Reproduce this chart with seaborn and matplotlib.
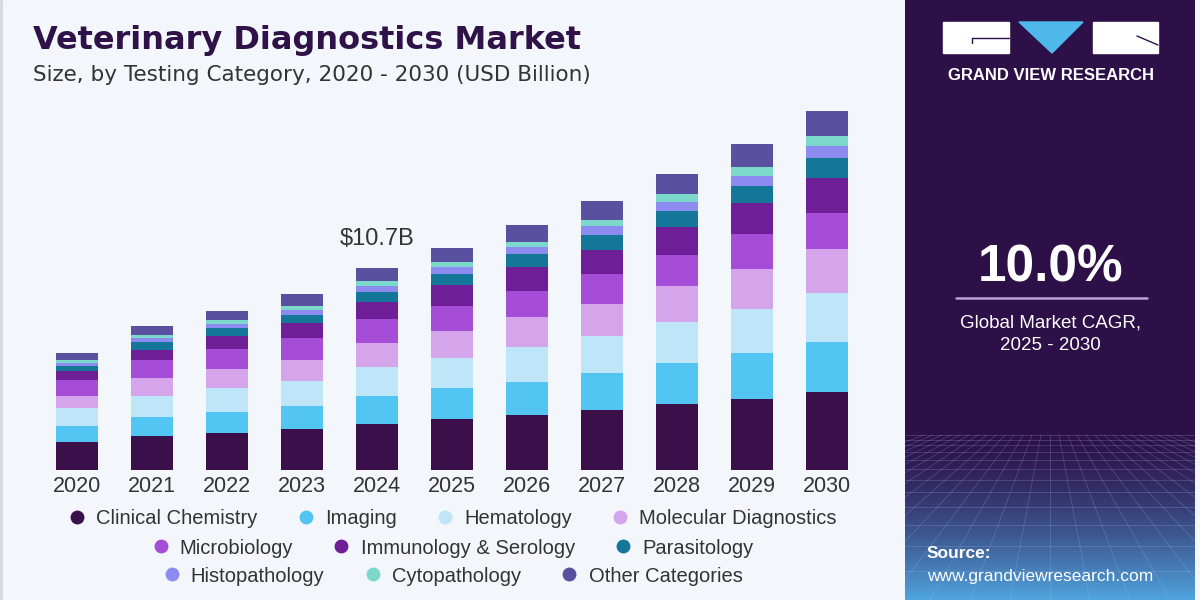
import numpy as np
import matplotlib
matplotlib.use('Agg')
import matplotlib.pyplot as plt
from matplotlib.lines import Line2D
from matplotlib.patches import Rectangle, Polygon
import seaborn as sns

sns.set_theme(style='white')
plt.rcParams['font.family'] = ['Liberation Sans', 'DejaVu Sans']

# Datos (USD Billion)
years = ['2020', '2021', '2022', '2023', '2024', '2025', '2026', '2027', '2028', '2029', '2030']
clinical_chemistry = [1.47, 1.80, 1.98, 2.16, 2.44, 2.69, 2.92, 3.18, 3.49, 3.77, 4.12]
imaging = [0.85, 1.01, 1.11, 1.24, 1.49, 1.64, 1.77, 1.98, 2.18, 2.46, 2.69]
hematology = [0.95, 1.13, 1.24, 1.34, 1.55, 1.63, 1.86, 1.96, 2.18, 2.32, 2.56]
molecular_diagnostics = [0.67, 0.92, 1.02, 1.10, 1.24, 1.42, 1.55, 1.71, 1.89, 2.12, 2.33]
microbiology = [0.83, 0.95, 1.05, 1.15, 1.27, 1.33, 1.42, 1.55, 1.68, 1.84, 1.95]
immunology_serology = [0.49, 0.58, 0.73, 0.83, 0.94, 1.11, 1.24, 1.31, 1.47, 1.64, 1.86]
parasitology = [0.27, 0.41, 0.42, 0.41, 0.53, 0.57, 0.69, 0.80, 0.86, 0.92, 1.06]
histopathology = [0.16, 0.18, 0.21, 0.27, 0.30, 0.37, 0.37, 0.44, 0.46, 0.55, 0.64]
cytopathology = [0.14, 0.18, 0.18, 0.21, 0.27, 0.27, 0.27, 0.32, 0.42, 0.48, 0.51]
other_categories = [0.39, 0.49, 0.51, 0.62, 0.67, 0.74, 0.89, 1.02, 1.08, 1.18, 1.33]

categories = ['Clinical Chemistry', 'Imaging', 'Hematology', 'Molecular Diagnostics',
              'Microbiology', 'Immunology & Serology', 'Parasitology',
              'Histopathology', 'Cytopathology', 'Other Categories']
series = [clinical_chemistry, imaging, hematology, molecular_diagnostics, microbiology,
          immunology_serology, parasitology, histopathology, cytopathology, other_categories]
colors = ['#3B0F4A', '#52C5F2', '#BEE6F8', '#D4A5EA', '#A64DD8',
          '#6E1E96', '#147799', '#8C8CF0', '#7DD8CC', '#5A50A0']

highlight_year = '2024'
highlight_label = '$10.7B'

bg = '#F3F6FA'
W, H = 1200, 600


def fx(x):
    return x / W


def fy(y):
    return 1 - y / H


fig = plt.figure(figsize=(12, 6), dpi=100)
fig.patch.set_facecolor(bg)

# Barras apiladas
ax = fig.add_axes([fx(39.5), 130 / H, 825 / W, 377 / H])
ax.set_facecolor('none')
bottom = np.zeros(len(years))
for vals, col in zip(series, colors):
    sns.barplot(x=years, y=vals, bottom=bottom, color=col, width=0.55, saturation=1,
                errorbar=None, linewidth=0, ax=ax)
    bottom = bottom + np.array(vals)

ax.set_xlim(-0.5, 10.5)
ax.set_ylim(0, 20)
ax.set_yticks([])
ax.set_ylabel('')
sns.despine(ax=ax, left=True, bottom=True)
ax.tick_params(axis='x', length=0, labelsize=15.5, colors='#333333', pad=4)

i = years.index(highlight_year)
ax.annotate(highlight_label.replace('$', r'\$'), (i, bottom[i]), xytext=(0, 21),
            textcoords='offset points', ha='center', va='center',
            fontsize=17, color='#333333')

# Titulos
fig.text(fx(33), fy(40), 'Veterinary Diagnostics Market', family='DejaVu Sans',
         fontweight='bold', fontsize=23, color='#2E1248', va='center', ha='left')
fig.text(fx(33), fy(75), 'Size, by Testing Category, 2020 - 2030 (USD Billion)',
         family='DejaVu Sans', fontsize=15.5, color='#333333', va='center', ha='left')

# Leyenda en tres filas
rows = [categories[0:4], categories[4:7], categories[7:10]]
row_y = [519, 548, 576]
for row, yy in zip(rows, row_y):
    handles = [Line2D([], [], marker='o', linestyle='', markersize=10,
                      markerfacecolor=colors[categories.index(c)], markeredgewidth=0)
               for c in row]
    leg = fig.legend(handles, row, loc='center', bbox_to_anchor=(fx(452), fy(yy)),
                     ncol=len(row), frameon=False, handlelength=1.0, handletextpad=0.45,
                     columnspacing=1.9, borderaxespad=0, borderpad=0,
                     prop={'family': 'Liberation Sans', 'size': 14.5})
    for t in leg.get_texts():
        t.set_color('#333333')

# Borde izquierdo
fig.add_artist(Line2D([fx(1), fx(1)], [0, 1], color='#D5D8DD', lw=2))

# Panel derecho
panel = fig.add_axes([fx(905), 0, 290 / W, 1])
panel.set_xlim(905, 1195)
panel.set_ylim(600, 0)
panel.axis('off')
purple = np.array([0x2D, 0x10, 0x48]) / 255
blue = np.array([0x50, 0xA6, 0xE0]) / 255
yy = np.arange(600)
t = np.clip((yy - 430) / 170, 0, 1) ** 1.5
grad = purple[None, :] * (1 - t[:, None]) + blue[None, :] * t[:, None]
panel.imshow(grad[:, None, :], extent=(905, 1195, 600, 0), aspect='auto', zorder=0)

# Rejilla decorativa
for k in range(-14, 15):
    panel.plot([1050 + k * 9, 1050 + k * 40], [435, 600], color='#9FC0F0', lw=0.6,
               alpha=0.25, zorder=1)
hy = 435.0
step = 4.0
while hy < 600:
    panel.plot([905, 1195], [hy, hy], color='#9FC0F0', lw=0.6, alpha=0.25, zorder=1)
    step *= 1.18
    hy += step

# Logo
panel.add_patch(Rectangle((943, 22), 66, 31, color='white', zorder=2))
panel.add_patch(Rectangle((1093, 22), 65, 31, color='white', zorder=2))
panel.add_patch(Polygon([(1019, 22), (1083, 22), (1052, 53)], closed=True,
                        color='#4FB8EA', zorder=2))
panel.plot([972, 1009], [38, 38], color='#2D1048', lw=1.0, zorder=3)
panel.plot([972, 972], [38, 43], color='#2D1048', lw=1.0, zorder=3)
panel.plot([1137, 1158], [36, 45], color='#2D1048', lw=1.0, zorder=3)
panel.text(1050.5, 76, 'GRAND VIEW RESEARCH', color='white', fontsize=12,
           fontweight='bold', ha='center', va='center', zorder=3)

panel.text(1051, 268, '10.0%', color='white', fontsize=37, fontweight='bold',
           ha='center', va='center', zorder=3)
panel.plot([956, 1147], [298, 298], color='#B9A0D8', lw=1.8, zorder=3)
panel.text(1050, 323, 'Global Market CAGR,', color='white', fontsize=13.5,
           ha='center', va='center', zorder=3)
panel.text(1050, 346, '2025 - 2030', color='white', fontsize=13.5,
           ha='center', va='center', zorder=3)

panel.text(927, 553, 'Source:', color='white', fontsize=12.5, fontweight='bold',
           ha='left', va='center', zorder=3)
panel.text(927, 577, 'www.grandviewresearch.com', color='white', fontsize=12.5,
           ha='left', va='center', zorder=3)

fig.savefig('out.png', dpi=100, facecolor=fig.get_facecolor())
